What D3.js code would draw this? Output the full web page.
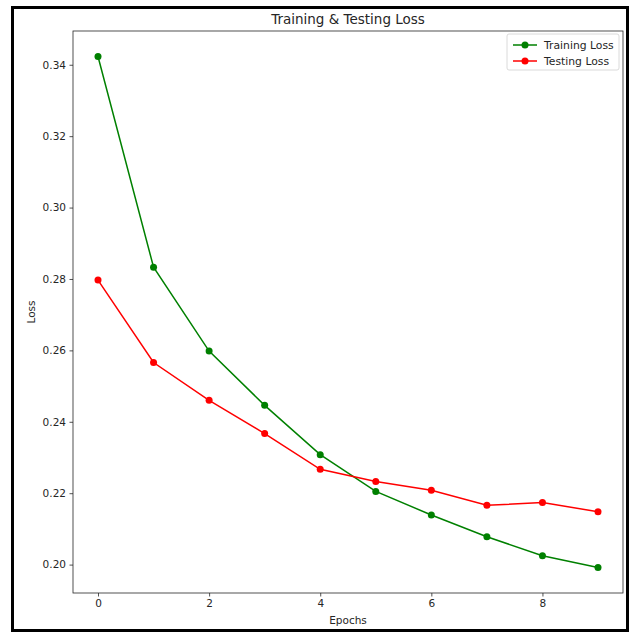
<!DOCTYPE html>
<html>
<head>
<meta charset="utf-8">
<script src="https://cdn.jsdelivr.net/npm/d3@7"></script>
<style>
    body { margin: 0; background: #fff; }
    svg text { font-family: "DejaVu Sans", sans-serif; fill: #262626; }
</style>
</head>
<body>
<div id="chart"></div>
<script>
// data
var epochs = [0, 1, 2, 3, 4, 5, 6, 7, 8, 9];
var trainingLoss = [0.3423, 0.2833, 0.2598, 0.2446, 0.2308, 0.2205, 0.2139, 0.2078, 0.2025, 0.1992];
var testingLoss = [0.2797, 0.2566, 0.2460, 0.2367, 0.2267, 0.2233, 0.2208, 0.2166, 0.2174, 0.2148];
var xTicks = [0, 2, 4, 6, 8];
var yTicks = [0.20, 0.22, 0.24, 0.26, 0.28, 0.30, 0.32, 0.34];

var series = [
    { name: "Training Loss", values: trainingLoss, color: "green" },
    { name: "Testing Loss", values: testingLoss, color: "red" }
];

var W = 630, H = 633;
var margin = { top: 31, right: 7, bottom: 40, left: 73 },
    width = W - margin.left - margin.right,
    height = H - margin.top - margin.bottom;

var root = d3.select("#chart").append("svg")
    .attr("width", W)
    .attr("height", H);

// outer black frame
root.append("rect")
    .attr("x", 12.5).attr("y", 7.5)
    .attr("width", 615).attr("height", 623)
    .attr("fill", "none")
    .attr("stroke", "#000")
    .attr("stroke-width", 3);

var svg = root.append("g")
    .attr("transform", "translate(" + margin.left + "," + margin.top + ")");

// matplotlib style 5% padding
var allY = trainingLoss.concat(testingLoss);
var yMin = d3.min(allY), yMax = d3.max(allY), yPad = (yMax - yMin) * 0.05;
var xPad = (d3.max(epochs) - d3.min(epochs)) * 0.05;

var x = d3.scaleLinear()
    .domain([d3.min(epochs) - xPad, d3.max(epochs) + xPad])
    .range([0, width]);

var y = d3.scaleLinear()
    .domain([yMin - yPad, yMax + yPad])
    .range([height, 0]);

// axes
var xAxis = svg.append("g")
    .attr("transform", "translate(0," + height + ")")
    .call(d3.axisBottom(x).tickValues(xTicks).tickSize(3.5).tickPadding(3.5).tickFormat(d3.format("d")));

var yAxis = svg.append("g")
    .call(d3.axisLeft(y).tickValues(yTicks).tickSize(3.5).tickPadding(3.5).tickFormat(d3.format(".2f")));

[xAxis, yAxis].forEach(function(a) {
    a.select(".domain").remove();
    a.selectAll("line").attr("stroke", "#262626").attr("stroke-width", 0.8);
    a.selectAll("text").style("font-size", "10.5px").style("font-family", "DejaVu Sans");
});

// frame around plot area
svg.append("rect")
    .attr("width", width).attr("height", height)
    .attr("fill", "none")
    .attr("stroke", "#262626")
    .attr("stroke-width", 0.8);

// lines and markers
var line = d3.line()
    .x(function(d, i) { return x(epochs[i]); })
    .y(function(d) { return y(d); });

series.forEach(function(s) {
    svg.append("path")
        .datum(s.values)
        .attr("d", line)
        .attr("fill", "none")
        .attr("stroke", s.color)
        .attr("stroke-width", 1.5);

    svg.append("g")
        .selectAll("circle")
        .data(s.values)
        .enter()
        .append("circle")
        .attr("cx", function(d, i) { return x(epochs[i]); })
        .attr("cy", function(d) { return y(d); })
        .attr("r", 3.5)
        .attr("fill", s.color);
});

// title and axis labels
svg.append("text")
    .attr("x", width / 2)
    .attr("y", -7)
    .attr("text-anchor", "middle")
    .style("font-size", "13.5px")
    .text("Training & Testing Loss");

svg.append("text")
    .attr("x", width / 2)
    .attr("y", height + 31)
    .attr("text-anchor", "middle")
    .style("font-size", "10.5px")
    .text("Epochs");

svg.append("text")
    .attr("transform", "translate(-38," + (height / 2) + ") rotate(-90)")
    .attr("text-anchor", "middle")
    .style("font-size", "10.5px")
    .text("Loss");

// legend
var legend = svg.append("g")
    .attr("transform", "translate(" + (width - 116) + ",3)");

legend.append("rect")
    .attr("width", 112).attr("height", 36)
    .attr("rx", 2)
    .attr("fill", "#fff")
    .attr("stroke", "#d0d0d0")
    .attr("stroke-width", 0.8);

series.forEach(function(s, i) {
    var row = legend.append("g").attr("transform", "translate(0," + (11 + i * 16) + ")");
    row.append("line")
        .attr("x1", 6).attr("x2", 30)
        .attr("stroke", s.color).attr("stroke-width", 1.5);
    row.append("circle")
        .attr("cx", 18).attr("r", 3.5)
        .attr("fill", s.color);
    row.append("text")
        .attr("x", 37).attr("y", 4)
        .style("font-size", "10.8px")
        .text(s.name);
});
</script>
</body>
</html>
